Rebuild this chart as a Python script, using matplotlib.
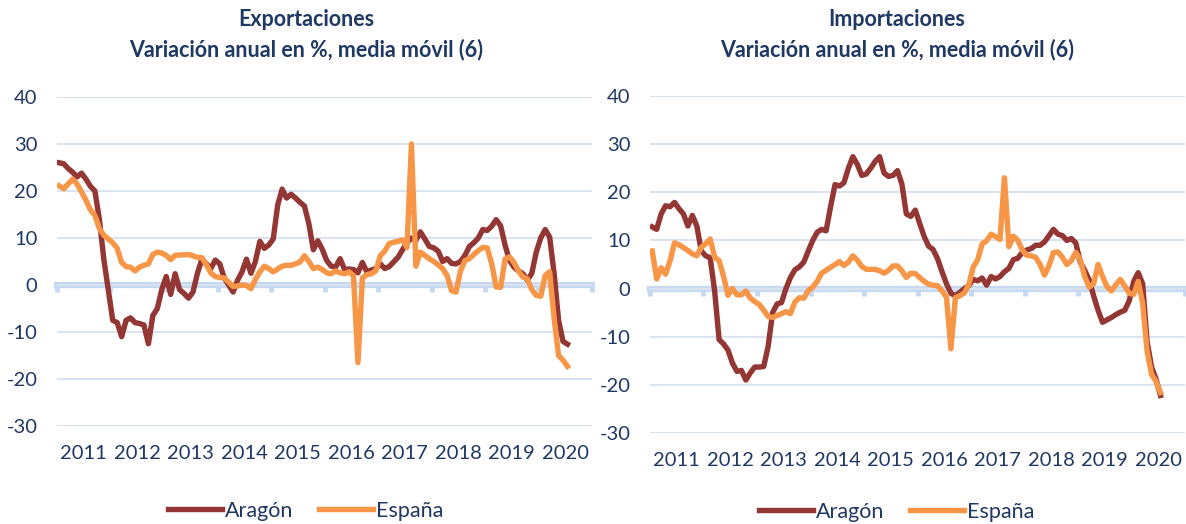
import numpy as np
import matplotlib
matplotlib.use('Agg')
import matplotlib.pyplot as plt

plt.rcParams['font.family'] = ['Lato', 'DejaVu Sans']
plt.rcParams['axes.unicode_minus'] = False

years = ['2011', '2012', '2013', '2014', '2015', '2016', '2017', '2018', '2019', '2020']

# monthly values, Jan 2011 .. Jul 2020
exp_aragon = [
    26.0, 25.8, 24.8, 24.0, 23.0, 23.8, 22.5, 21.0, 20.0, 14.0,
    5.5, -1.0, -7.5, -8.0, -11.0, -7.5, -7.0, -8.0, -8.2, -8.5,
    -12.5, -6.5, -5.0, -1.0, 1.8, -2.0, 2.4, -1.0, -1.8, -2.8,
    -1.5, 2.5, 5.5, 4.5, 3.5, 5.3, 4.5, 1.5, 0.0, -1.5,
    1.0, 2.8, 5.5, 2.5, 5.0, 9.3, 7.8, 8.5, 9.8, 17.0,
    20.4, 18.5, 19.3, 18.5, 17.6, 16.8, 13.0, 7.5, 9.4, 7.6,
    5.2, 4.0, 3.8, 5.6, 3.3, 3.4, 3.3, 2.6, 4.8, 2.8,
    3.2, 3.5, 4.5, 3.5, 3.9, 4.9, 5.9, 7.5, 9.0, 10.0,
    9.5, 11.3, 9.8, 8.2, 7.9, 7.2, 5.0, 5.6, 4.6, 4.5,
    5.0, 6.3, 8.2, 9.0, 10.0, 11.8, 11.6, 12.5, 13.9, 12.6,
    8.5, 5.2, 3.8, 3.0, 2.4, 1.0, 2.5, 7.0, 10.0, 11.8,
    10.2, 2.5, -7.5, -12.0, -12.6,
]
exp_espana = [
    21.1, 20.5, 21.5, 22.5, 21.5, 19.8, 18.0, 16.0, 14.8, 12.0,
    10.6, 9.8, 9.0, 7.8, 4.8, 3.9, 3.8, 3.0, 3.8, 4.2,
    4.5, 6.5, 7.0, 6.8, 6.3, 5.4, 6.3, 6.4, 6.4, 6.5,
    6.2, 5.9, 5.8, 4.3, 2.6, 1.8, 1.6, 1.5, 0.6, -0.3,
    -0.2, 0.0, -0.1, -0.8, 1.2, 2.8, 4.0, 3.5, 2.8, 3.4,
    4.0, 4.2, 4.2, 4.5, 4.9, 6.2, 5.0, 3.5, 3.8, 3.3,
    2.6, 2.4, 3.0, 2.6, 2.4, 2.8, 2.0, -16.5, 1.5, 2.2,
    2.4, 3.0, 6.2, 7.2, 8.8, 9.1, 9.3, 9.6, 8.0, 30.0,
    4.0, 7.0, 6.3, 5.6, 5.0, 4.3, 3.5, 2.0, -1.2, -1.5,
    3.0, 5.2, 5.6, 6.5, 7.3, 8.0, 7.9, 4.5, -0.4, -0.5,
    5.5, 6.0, 4.8, 3.0, 1.7, 1.3, -1.0, -2.2, -2.4, 2.0,
    2.8, -7.0, -15.0, -16.0, -17.3,
]
imp_aragon = [
    12.8, 12.3, 15.5, 17.2, 17.0, 17.9, 16.6, 15.5, 13.0, 15.2,
    13.0, 7.8, 6.8, 6.4, -0.5, -10.6, -11.5, -12.8, -15.5, -17.2,
    -17.0, -19.0, -17.5, -16.3, -16.3, -16.2, -12.0, -5.0, -3.2, -2.9,
    0.0, 2.3, 3.9, 4.5, 5.5, 7.8, 10.0, 11.7, 12.3, 12.0,
    17.0, 21.6, 21.3, 22.0, 25.0, 27.4, 25.8, 23.5, 23.8, 25.0,
    26.4, 27.4, 24.0, 23.3, 23.5, 24.5, 21.7, 15.5, 15.0, 16.3,
    13.5, 10.8, 8.8, 8.1, 6.2, 3.5, 1.0, -1.0, -1.5, -0.8,
    0.0, 0.6, 1.9, 1.6, 2.2, 0.7, 2.5, 2.0, 2.5, 3.5,
    4.2, 6.0, 6.3, 7.5, 8.0, 8.3, 9.0, 9.0, 9.7, 11.0,
    12.3, 11.3, 11.0, 10.0, 10.4, 9.5, 5.5, 3.8, 1.8, -1.5,
    -4.5, -7.0, -6.5, -6.0, -5.4, -4.9, -4.5, -2.5, 1.5, 3.3,
    1.0, -11.0, -16.3, -18.8, -22.2,
]
imp_espana = [
    7.8, 2.0, 4.3, 3.0, 5.8, 9.5, 9.1, 8.5, 7.9, 7.2,
    6.8, 8.6, 9.3, 10.3, 6.5, 5.8, 2.5, -1.4, 0.0, -1.3,
    -1.3, -0.5, -2.0, -2.7, -3.3, -4.5, -5.8, -6.0, -5.6, -5.2,
    -4.8, -5.2, -2.8, -1.9, -2.0, -0.4, 0.3, 1.5, 3.2, 3.8,
    4.4, 5.0, 5.6, 4.8, 5.5, 6.8, 5.9, 4.6, 4.0, 4.0,
    4.0, 3.7, 3.2, 3.8, 4.7, 4.7, 3.7, 2.3, 3.2, 3.1,
    2.3, 1.5, 0.9, 0.7, 0.6, -0.5, -1.8, -12.5, -1.9, -1.5,
    -0.9, 0.8, 4.5, 6.0, 9.3, 9.9, 11.3, 10.8, 10.2, 23.0,
    8.7, 10.9, 10.0, 8.0, 6.9, 6.8, 6.5, 5.0, 2.8, 4.8,
    7.5, 7.6, 6.5, 5.0, 5.8, 7.5, 6.0, 2.5, 0.3, 1.0,
    5.0, 2.5, 0.4, -0.5, 0.8, 1.9, 0.5, -1.0, -1.2, 1.5,
    -3.0, -13.0, -17.8, -19.3, -21.6,
]

NAVY = '#1F3864'
RED = '#943634'
ORANGE = '#F79646'
GRID = '#D9E4F1'
ZERO = '#C6D9F0'

W, H = 1186, 524
fig = plt.figure(figsize=(W / 100, H / 100), dpi=100)

ax1 = fig.add_axes([57 / W, 1 - 426 / H, 535 / W, (426 - 97) / H])
ax2 = fig.add_axes([650 / W, 1 - 433 / H, 535 / W, (433 - 96) / H])


def draw(ax, aragon, espana, title, title_x, legend_y):
    x = np.arange(len(aragon)) + 0.5
    ax.plot(x, aragon, color=RED, lw=3.9, label='Aragón', solid_joinstyle='round')
    ax.plot(x, espana, color=ORANGE, lw=3.9, label='España', solid_joinstyle='round')

    ax.set_xlim(0, 120)
    ax.set_ylim(-30, 40)
    ax.set_yticks(range(-30, 41, 10))
    ax.grid(axis='y', color=GRID, lw=1.4)
    ax.set_axisbelow(True)
    for s in ax.spines.values():
        s.set_visible(False)
    ax.tick_params(axis='y', length=0, pad=14, labelsize=14.5, labelcolor=NAVY)
    ax.set_xticks(np.arange(6, 120, 12), years)
    ax.tick_params(axis='x', length=0, pad=14, labelsize=14.5, labelcolor=NAVY)

    # thick zero line with year ticks
    zax = ax.secondary_xaxis(30 / 70)
    zax.set_xticks(np.arange(0, 121, 12))
    zax.tick_params(length=5, width=3.5, color=ZERO, labelbottom=False)
    zax.spines['bottom'].set_color(ZERO)
    zax.spines['bottom'].set_linewidth(4.5)

    fig.text(title_x / W, 1 - 20 / H, title, ha='center', va='center',
             fontsize=15.5, fontweight='bold', color=NAVY)
    fig.text(title_x / W, 1 - 50 / H, 'Variación anual en %, media móvil (6)',
             ha='center', va='center', fontsize=15.5, fontweight='bold', color=NAVY)

    ax.legend(loc='center', bbox_to_anchor=(title_x / W, 1 - legend_y / H),
              bbox_transform=fig.transFigure, ncol=2, frameon=False,
              fontsize=15.5, handlelength=2.5, handletextpad=0.15,
              columnspacing=1.2, labelcolor=NAVY)


draw(ax1, exp_aragon, exp_espana, 'Exportaciones', 306, 511)
draw(ax2, imp_aragon, imp_espana, 'Importaciones', 897, 512)

fig.savefig('out.png', dpi=100)
